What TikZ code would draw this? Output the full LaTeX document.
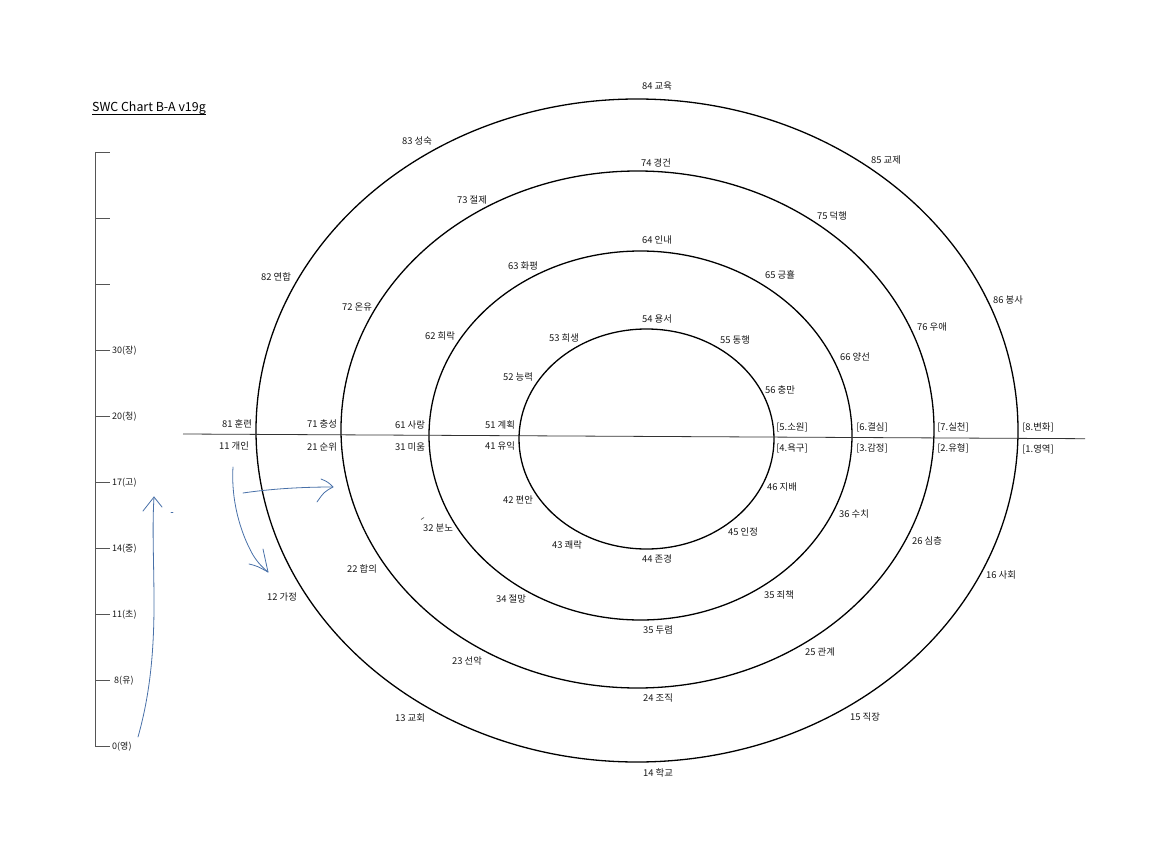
\documentclass[tikz,border=0pt]{standalone}
\usepackage{fontspec}
\setmainfont{Noto Sans CJK KR}
\definecolor{pen}{RGB}{72,112,168}
\definecolor{barc}{RGB}{85,85,85}
\tikzset{
  ring/.style={line width=1.3pt, black},
  axis/.style={line width=0.8pt, black!80},
  bar/.style={line width=0.9pt, barc},
  lbl/.style={font=\fontsize{9.4}{11}\selectfont, inner sep=0pt, text=black!90},
  tick lbl/.style={font=\fontsize{9}{11}\selectfont, inner sep=0pt, anchor=west, text=black!90},
  ink/.style={line width=0.8pt, pen, line cap=round, line join=round}
}
\begin{document}
\begin{tikzpicture}[x=1pt,y=-1pt]
            \useasboundingbox (0,0) rectangle (1152,864);

            % title
            \node[font=\fontsize{12.4}{14}\selectfont, inner sep=0pt, anchor=west] (title) at (92,108) {SWC Chart B-A v19g};
            \draw[line width=0.7pt] ([yshift=-2.5pt]title.base west) -- ([yshift=-2.5pt]title.base east);

            % age bar
            \coordinate (B_t) at (95,152);
            \coordinate (B_b) at (95,747);
            \draw[bar] (B_t) -- (B_b);
            \foreach \k in {0,...,9}
                \draw[bar] (95,{152+66.1*\k}) -- ++(15,0);
            \foreach \k/\t in {3/30(장),4/20(청),5/17(고),6/14(중),7/11(초),8/\ 8(유),9/0(영)}
                \node[tick lbl] (age\k) at (112,{152+66.1*\k}) {\t};

            % rings
            \coordinate (C_1) at (637,430.5);
            \coordinate (C_2) at (637.5,429.5);
            \coordinate (C_3) at (640.5,435.5);
            \coordinate (C_4) at (646.5,439);
            \draw[ring] (C_1) ellipse [x radius=381pt, y radius=331.5pt];
            \draw[ring] (C_2) ellipse [x radius=296.5pt, y radius=258.5pt];
            \draw[ring] (C_3) ellipse [x radius=211.5pt, y radius=184.5pt];
            \draw[ring] (C_4) ellipse [x radius=127.5pt, y radius=110pt];

            % axis
            \coordinate (ax_l) at (183,434);
            \coordinate (ax_r) at (1085,438.7);
            \draw[axis] (ax_l) -- (ax_r);

            %%%%%%%%%%%%%%%%%%%%
            % ring 8 / 1
            \foreach \p/\q/\n/\t in {657/86/84/84 교육, 417/141/83/83 성숙, 886/160/85/85 교제,
                    276/277/82/82 연합, 1008/300/86/86 봉사, 237/424/81/81 훈련, 1038/427/s8/{[8.변화]},
                    234/446/11/11 개인, 282/597/12/12 가정, 410/718/13/13 교회, 658/773/14/14 학교,
                    865/717/15/15 직장, 1001/575/16/16 사회, 1038/449/s1/{[1.영역]}}
                \node[lbl] (l\n) at (\p,\q) {\t};

            % ring 7 / 2
            \foreach \p/\q/\n/\t in {656/163/74/74 경건, 472/200/73/73 절제, 832/216/75/75 덕행,
                    357/307/72/72 온유, 932/327/76/76 우애, 322/424/71/71 충성, 953/427/s7/{[7.실천]},
                    322/447/21/21 순위, 362/569/22/22 합의, 467/661/23/23 선악, 658/698/24/24 조직,
                    820/652/25/25 관계, 927/541/26/26 심층, 953/448/s2/{[2.유형]}}
                \node[lbl] (l\n) at (\p,\q) {\t};

            % ring 6 / 3
            \foreach \p/\q/\n/\t in {657/240/64/64 인내, 523/266/63/63 화평, 780/275/65/65 긍휼,
                    440/336/62/62 희락, 855/357/66/66 양선, 410/425/61/61 사랑, 872/427/s6/{[6.결심]},
                    410/447/31/31 미움, 438/528/32/32 분노, 511/599/34/34 절망, 658/630/35a/35 두렴,
                    779/595/35b/35 죄책, 854/514/36/36 수치, 872/448/s3/{[3.감정]}}
                \node[lbl] (l\n) at (\p,\q) {\t};

            % ring 5 / 4
            \foreach \p/\q/\n/\t in {657/319/54/54 용서, 564/338/53/53 희생, 735/340/55/55 동행,
                    518/377/52/52 능력, 780/390/56/56 충만, 500/425/51/51 계획, 792/427/s5/{[5.소원]},
                    500/446/41/41 유익, 518/500/42/42 편안, 567/545/43/43 쾌락, 657/559/44/44 존경,
                    743/532/45/45 인정, 782/487/46/46 지배, 792/448/s4/{[4.욕구]}}
                \node[lbl] (l\n) at (\p,\q) {\t};

            %%%%%%%%%%%%%%%%%%%%
            % pen strokes
            \coordinate (up_s) at (138,737);
            \coordinate (up_t) at (154,497);
            \draw[ink] (up_s) .. controls (147,705) and (154,665) .. (154,605)
                .. controls (154,560) and (152,530) .. (up_t);
            \draw[ink] (143,511) -- (up_t) -- (162,507);

            \coordinate (dn_s) at (233,467);
            \coordinate (dn_t) at (268,572);
            \draw[ink] (dn_s) .. controls (231,500) and (240,532) .. (253,555)
                .. controls (258,563) and (263,568) .. (dn_t);
            \draw[ink] (249,564) .. controls (257,566) .. (dn_t) .. controls (265,560) .. (263,549);

            \coordinate (rt_s) at (243,493);
            \coordinate (rt_t) at (333,487);
            \draw[ink] (rt_s) .. controls (270,489) and (300,487) .. (rt_t);
            \draw[ink] (321,479) .. controls (328,482) .. (rt_t) .. controls (324,492) .. (317,502);

            \draw[ink] (171,512) -- (173,512);
            \draw[line width=0.6pt, black!70] (421,519.5) -- (424,517.5);
\end{tikzpicture}
\end{document}
